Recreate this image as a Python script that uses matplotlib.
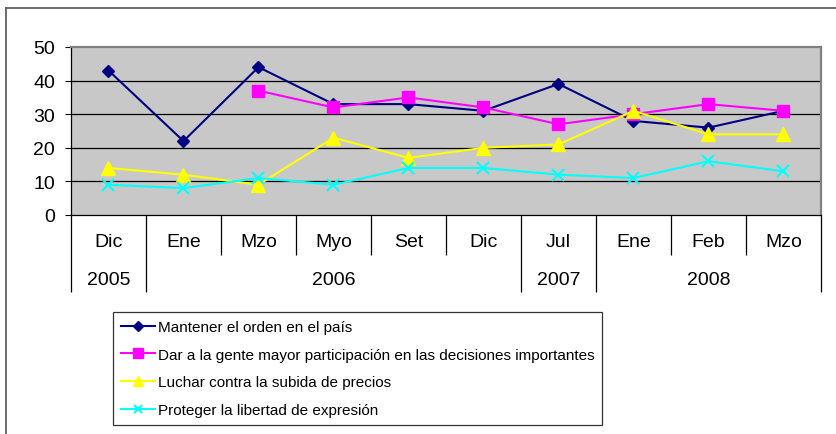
import numpy as np
import matplotlib
matplotlib.use("Agg")
import matplotlib.pyplot as plt
from matplotlib.lines import Line2D
import matplotlib.transforms as mtransforms

plt.rcParams["font.family"] = ["Liberation Sans", "DejaVu Sans"]

# Data
months = ["Dic", "Ene", "Mzo", "Myo", "Set", "Dic", "Jul", "Ene", "Feb", "Mzo"]
years = ["2005", "2006", "2007", "2008"]
year_spans = [(0, 0), (1, 5), (6, 6), (7, 9)]

mantener = [43, 22, 44, 33, 33, 31, 39, 28, 26, 31]
dar = [np.nan, np.nan, 37, 32, 35, 32, 27, 30, 33, 31]
luchar = [14, 12, 9, 23, 17, 20, 21, 31, 24, 24]
proteger = [9, 8, 11, 9, 14, 14, 12, 11, 16, 13]

labels = ["Mantener el orden en el país",
          "Dar a la gente mayor participación en las decisiones importantes",
          "Luchar contra la subida de precios",
          "Proteger la libertad de expresión"]

W, H = 837, 435
fig = plt.figure(figsize=(W / 100, H / 100), dpi=100)

# outer frame (top and left edges visible)
fig.add_artist(Line2D([6 / W, 1], [1 - 9 / H, 1 - 9 / H], transform=fig.transFigure,
                      color="#555555", lw=1.2))
fig.add_artist(Line2D([6 / W, 6 / W], [0, 1 - 9 / H], transform=fig.transFigure,
                      color="#555555", lw=1.2))

left, right, top, bottom = 71, 821, 48, 216
ax = fig.add_axes([left / W, 1 - bottom / H, (right - left) / W, (bottom - top) / H])
ax.set_facecolor("#C8C8C8")

x = np.arange(len(months))
ax.plot(x, mantener, color="#000080", marker="D", ms=6.5, lw=1.5, label=labels[0])
ax.plot(x, dar, color="#FF00FF", marker="s", ms=8.5, lw=1.5, label=labels[1])
ax.plot(x, luchar, color="#FFFF00", marker="^", ms=9.5, lw=1.5, label=labels[2])
ax.plot(x, proteger, color="#00FFFF", marker="x", ms=8, mew=1.5, lw=1.5, label=labels[3])

ax.set_xlim(-0.5, 9.5)
ax.set_ylim(0, 50)
ax.set_yticks([0, 10, 20, 30, 40, 50])
ax.tick_params(axis="y", labelsize=14, length=4.5, width=0.8, pad=7, direction="out")
for yv in [10, 20, 30, 40]:
    ax.axhline(yv, color="black", lw=0.9, zorder=1)

for side in ["top", "right"]:
    ax.spines[side].set_color("#808080")
    ax.spines[side].set_linewidth(1.6)
ax.spines["left"].set_color("black")
ax.spines["bottom"].set_color("black")
ax.spines["left"].set_linewidth(0.9)
ax.spines["bottom"].set_linewidth(0.9)

# category axis: year separators long, month separators short
ph = bottom - top
year_bounds = [-0.5] + [s[1] + 0.5 for s in year_spans]
month_bounds = [i + 0.5 for i in range(len(months) - 1)]
ax.set_xticks(year_bounds)
ax.set_xticks(month_bounds, minor=True)
ax.tick_params(axis="x", which="major", length=77 * 0.72, width=0.9, labelbottom=False)
ax.tick_params(axis="x", which="minor", length=40 * 0.72, width=0.9, labelbottom=False)

trans = mtransforms.blended_transform_factory(ax.transData, ax.transAxes)
for i, m in enumerate(months):
    ax.text(i, -27 / ph, m, transform=trans, ha="center", va="center", fontsize=14)
for yr, (a, b) in zip(years, year_spans):
    ax.text((a + b) / 2, -65 / ph, yr, transform=trans, ha="center", va="center", fontsize=14)

leg = fig.legend(loc="upper left", bbox_to_anchor=(113 / W, 1 - 313 / H),
                 prop={"family": "Liberation Sans", "size": 11}, frameon=True,
                 fancybox=False, edgecolor="black",
                 borderpad=0.52, borderaxespad=0, handlelength=2.2, handletextpad=0.2,
                 labelspacing=0.9, markerscale=0.8)
leg.get_frame().set_linewidth(0.9)

fig.savefig("out.png", dpi=100)
